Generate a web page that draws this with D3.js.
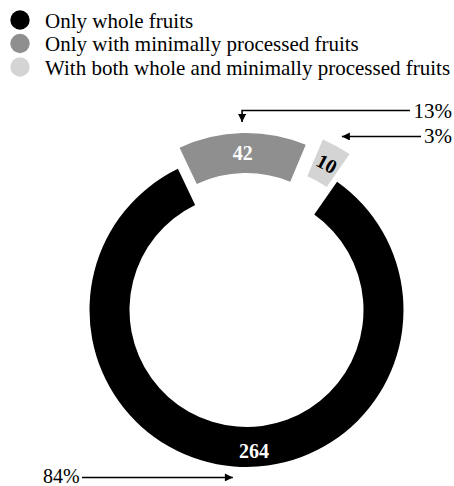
<!DOCTYPE html>
<html>
<head>
<meta charset="utf-8">
<script src="https://cdn.jsdelivr.net/npm/d3@7"></script>
<style>
  html, body { margin: 0; padding: 0; background: #fff; }
  svg { display: block; }
  text { font-family: "Liberation Serif", "Times New Roman", serif; }
</style>
</head>
<body>
<svg id="chart" width="454" height="486"></svg>
<script>
// Consumers of fruit, by form of fruit eaten
const categories = [
  "Only whole fruits",
  "Only with minimally processed fruits",
  "With both whole and minimally processed fruits"
];
const counts = [264, 42, 10];
const colors = ["#000000", "#8f8f8f", "#d4d4d4"];

const W = 454, H = 486;
const svg = d3.select("#chart");
svg.append("rect").attr("width", W).attr("height", H).attr("fill", "#fff");

// Legend
const legend = svg.append("g").attr("transform", "translate(20,20)");
categories.forEach((c, i) => {
  const row = legend.append("g").attr("transform", `translate(0,${i * 23.5})`);
  row.append("circle").attr("r", 9.7).attr("fill", colors[i]);
  row.append("text")
    .attr("x", 25).attr("y", 7.5)
    .attr("font-size", 21)
    .attr("fill", "#000")
    .text(c);
});

// Donut
const cx = 246.5, cy = 310;
const rIn = 117, rOut = 157;
const deg = Math.PI / 180;
const start = 34.8 * deg;

const pie = d3.pie().sort(null).value(d => d.value)
  .startAngle(start).endAngle(start + 2 * Math.PI)
  .padAngle(0.012);

const data = categories.map((c, i) => ({ name: c, value: counts[i], color: colors[i], i }));
const arcs = pie(data);
const total = d3.sum(counts);

const arc = d3.arc().innerRadius(rIn).outerRadius(rOut);
const tipArc = d3.arc().innerRadius(rOut + 11).outerRadius(rOut + 11);

// slices pulled out from the ring along their bisector
const pull = [0, 20, 30];
const mid = d => (d.startAngle + d.endAngle) / 2;
const offset = d => {
  const a = mid(d), p = pull[d.data.i];
  return [p * Math.sin(a), -p * Math.cos(a)];
};

const g = svg.append("g").attr("transform", `translate(${cx},${cy})`);

const slice = g.selectAll("g.slice").data(arcs).join("g")
  .attr("class", "slice")
  .attr("transform", d => `translate(${offset(d)})`);

slice.append("path")
  .attr("d", arc)
  .attr("fill", d => d.data.color);

// value labels
const labelAngle = [177 * deg, null, null];
slice.append("text")
  .attr("transform", d => {
    let p;
    if (labelAngle[d.data.i] != null) {
      const a = labelAngle[d.data.i];
      p = [141 * Math.sin(a), -141 * Math.cos(a)];
    } else {
      p = arc.centroid(d);
    }
    const rot = d.data.i === 2 ? mid(d) / deg : 0;
    return `translate(${p}) rotate(${rot})`;
  })
  .attr("text-anchor", "middle")
  .attr("dominant-baseline", "central")
  .attr("font-size", 20)
  .attr("font-weight", "bold")
  .attr("fill", d => d.data.i === 2 ? "#000" : "#fff")
  .text(d => d.value);

// percentage callouts with arrows
const defs = svg.append("defs");
defs.append("marker")
  .attr("id", "arrow")
  .attr("viewBox", "0 0 10 10")
  .attr("refX", 10).attr("refY", 5)
  .attr("markerWidth", 9).attr("markerHeight", 8)
  .attr("markerUnits", "userSpaceOnUse")
  .attr("orient", "auto")
  .append("path").attr("d", "M0,0 L10,5 L0,10 Z").attr("fill", "#000");

const pct = v => Math.round(v / total * 100) + "%";
const tip = d => {
  const c = tipArc.centroid(d), o = offset(d);
  return [cx + c[0] + o[0], cy + c[1] + o[1]];
};

const ann = svg.append("g");
const line = d3.line();
const callout = (pts, label, tx, ty, anchor, size) => {
  ann.append("path")
    .attr("d", line(pts))
    .attr("fill", "none")
    .attr("stroke", "#000")
    .attr("stroke-width", 1.6)
    .attr("marker-end", "url(#arrow)");
  ann.append("text")
    .attr("x", tx).attr("y", ty)
    .attr("text-anchor", anchor)
    .attr("dominant-baseline", "central")
    .attr("font-size", size)
    .attr("fill", "#000")
    .text(label);
};

// gray slice: elbow from the right
{
  const t = tip(arcs[1]);
  const y = 110.5;
  callout([[410, y], [t[0], y], t], pct(counts[1]), 452, y, "end", 21);
}
// light slice: straight from the right
{
  const t = tip(arcs[2]);
  callout([[421, t[1]], t], pct(counts[2]), 452, t[1], "end", 21);
}
// black slice: straight from the left
{
  const t = tip(arcs[0]);
  callout([[82, t[1]], t], pct(counts[0]), 43, t[1] - 1.5, "start", 20);
}
</script>
</body>
</html>
